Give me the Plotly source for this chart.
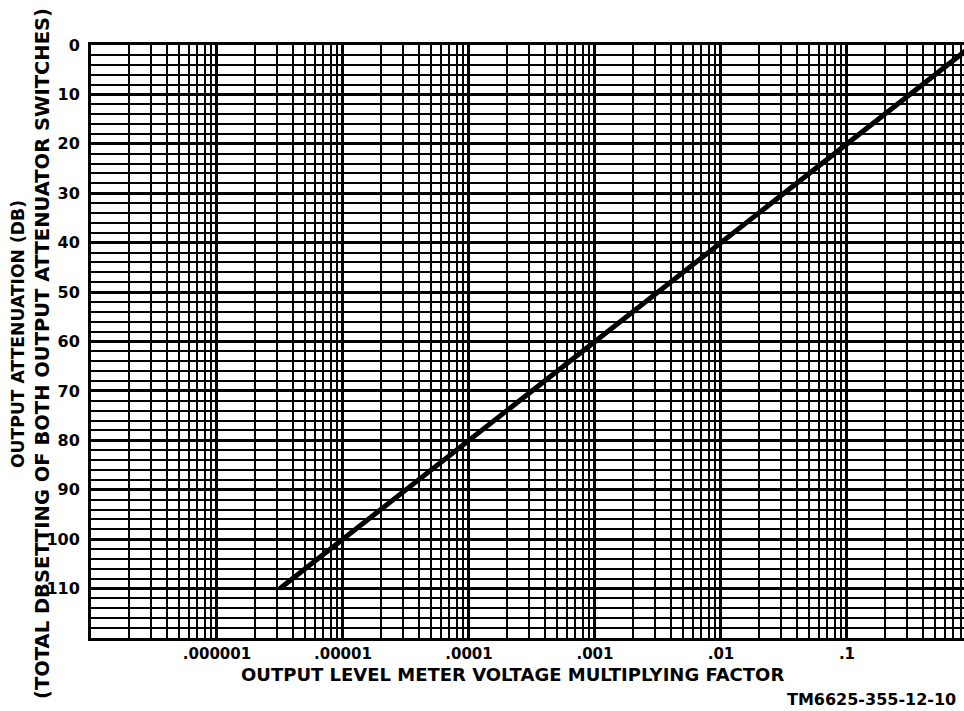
import plotly.graph_objects as go

# ---- data ----
factor = [0.00000316, 0.00001, 0.0001, 0.001, 0.01, 0.1, 1.0]
attenuation_db = [110, 100, 80, 60, 40, 20, 0]

x_tick_vals = [0.000001, 0.00001, 0.0001, 0.001, 0.01, 0.1]
x_tick_text = [".000001", ".00001", ".0001", ".001", ".01", ".1"]
y_tick_vals = [0, 10, 20, 30, 40, 50, 60, 70, 80, 90, 100, 110]
y_tick_text = [str(v) for v in y_tick_vals]

x_title = "OUTPUT LEVEL METER VOLTAGE MULTIPLYING FACTOR"
y_title_1 = "OUTPUT ATTENUATION (DB)"
y_title_2 = "(TOTAL DBSETTING OF BOTH OUTPUT ATTENUATOR SWITCHES)"
figure_id = "TM6625-355-12-10"

FONT = "DejaVu Sans"

# minor log grid (2..9 in each decade)
decades = [1e-7, 1e-6, 1e-5, 1e-4, 1e-3, 1e-2, 1e-1]
minor_x = [m * d for d in decades for m in range(2, 10)]

fig = go.Figure()
fig.add_trace(go.Scatter(
    x=factor, y=attenuation_db, mode="lines",
    line=dict(color="black", width=5),
    showlegend=False, hoverinfo="skip",
))

W, H = 964, 711
L, T, R = 91, 45, 0
B = H - 638
pw = W - L - R
ph = H - T - B

def px(sx):
    return (sx - L) / pw

def py(sy):
    return (H - B - sy) / ph

fig.update_layout(
    width=W, height=H,
    margin=dict(l=L, r=R, t=T, b=B),
    paper_bgcolor="white", plot_bgcolor="white",
    font=dict(family=FONT, color="black", size=16, weight="bold"),
    xaxis=dict(
        type="log", range=[-7, -0.071],
        tickmode="array", tickvals=x_tick_vals, ticktext=x_tick_text,
        showgrid=True, gridcolor="black", gridwidth=3,
        minor=dict(tickvals=minor_x, showgrid=True, gridcolor="black", gridwidth=2, ticks=""),
        showline=True, linecolor="black", linewidth=3, mirror=True,
        ticks="", ticklabelstandoff=0,
        tickfont=dict(family=FONT, size=15, weight="bold"),
        zeroline=False,
    ),
    yaxis=dict(
        range=[120, 0],
        tickmode="array", tickvals=y_tick_vals, ticktext=y_tick_text,
        showgrid=True, gridcolor="black", gridwidth=2.5,
        minor=dict(dtick=2, tick0=0, showgrid=True, gridcolor="black", gridwidth=2, ticks=""),
        showline=True, linecolor="black", linewidth=3, mirror=False,
        ticks="", ticklabelstandoff=5,
        tickfont=dict(family=FONT, size=16, weight="bold"),
        zeroline=False,
    ),
    annotations=[
        dict(text=x_title, xref="paper", yref="paper", x=px(512), y=py(674),
             xanchor="center", yanchor="middle", showarrow=False,
             font=dict(family=FONT, size=18, weight="bold")),
        dict(text=y_title_1, xref="paper", yref="paper", x=px(18), y=py(334),
             xanchor="center", yanchor="middle", showarrow=False, textangle=-90,
             font=dict(family=FONT, size=17.2, weight="bold")),
        dict(text=y_title_2, xref="paper", yref="paper", x=px(42), y=py(354),
             xanchor="center", yanchor="middle", showarrow=False, textangle=-90,
             font=dict(family=FONT, size=19.5, weight="bold")),
        dict(text=figure_id, xref="paper", yref="paper", x=px(958), y=py(699),
             xanchor="right", yanchor="middle", showarrow=False,
             font=dict(family=FONT, size=16, weight="bold")),
    ],
)

fig.write_html(
    "out.html",
    config={"displayModeBar": False},
    post_script="document.body.style.margin='0';document.body.style.overflow='hidden';",
)
